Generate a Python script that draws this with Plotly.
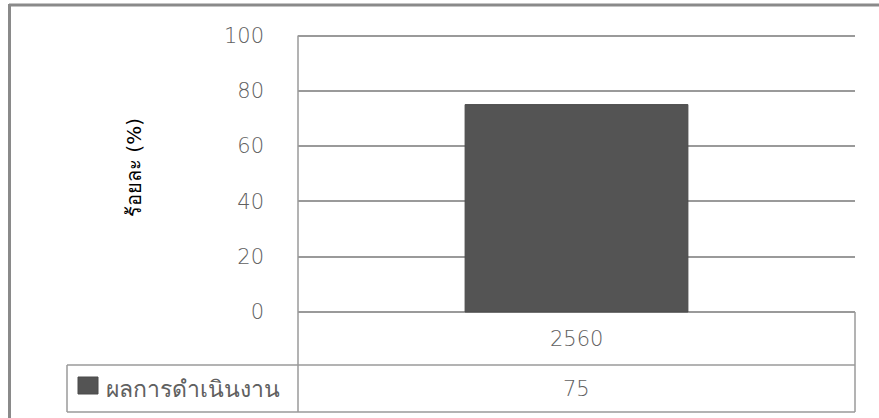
import plotly.graph_objects as go

# Data
categories = ["2560"]
series_name = "ผลการดำเนินงาน"
values = [75]
y_title = "ร้อยละ (%)"
y_ticks = [0, 20, 40, 60, 80, 100]
y_min, y_max = 0, 100

W, H = 879, 418


def px(x):
    return x / W


def py(y):
    return 1 - y / H


# Pixel layout of the chart frame
plot_l, plot_r = 298, 855
plot_t, plot_b = 35.5, 312
row1_b, row2_b = 365, 412
legend_l = 67

# pad the value range a little so the end gridlines are drawn,
# and grow the domain by the same amount so 0..100 stays in place
pad = 1.5
unit = (plot_b - plot_t) / (y_max - y_min)
dom_b = plot_b + pad * unit
dom_t = plot_t - pad * unit

grid_col = "#9a9a9a"
text_col = "#606060"
font_fam = "DejaVu Sans"
light = 200

fig = go.Figure()
fig.add_trace(go.Bar(
    x=categories,
    y=values,
    name=series_name,
    marker=dict(color="#545454", line=dict(color="#4a4a4a", width=1)),
    showlegend=False,
))

shapes = []
# outer chart border (top and left)
shapes.append(dict(type="line", xref="paper", yref="paper",
                   x0=px(9), x1=px(W + 5), y0=py(5), y1=py(5),
                   line=dict(color="#8a8a8a", width=3)))
shapes.append(dict(type="line", xref="paper", yref="paper",
                   x0=px(9.5), x1=px(9.5), y0=py(4), y1=py(H + 5),
                   line=dict(color="#8a8a8a", width=3)))
# data table grid
tl = dict(color=grid_col, width=1.5)
shapes += [
    dict(type="line", xref="paper", yref="paper", x0=px(plot_l), x1=px(plot_l),
         y0=py(plot_t), y1=py(row2_b), line=tl),
    dict(type="line", xref="paper", yref="paper", x0=px(plot_r), x1=px(plot_r),
         y0=py(plot_b), y1=py(row2_b), line=tl),
    dict(type="line", xref="paper", yref="paper", x0=px(legend_l), x1=px(plot_r),
         y0=py(row1_b), y1=py(row1_b), line=tl),
    dict(type="line", xref="paper", yref="paper", x0=px(legend_l), x1=px(plot_r),
         y0=py(row2_b), y1=py(row2_b), line=tl),
    dict(type="line", xref="paper", yref="paper", x0=px(legend_l), x1=px(legend_l),
         y0=py(row1_b), y1=py(row2_b), line=tl),
    # legend key swatch
    dict(type="rect", xref="paper", yref="paper", x0=px(78), x1=px(98),
         y0=py(394), y1=py(377), fillcolor="#545454",
         line=dict(color="#4a4a4a", width=1)),
]

cell_font = dict(family=font_fam, size=21, color=text_col, weight=light)
annotations = []
cell_cx = (plot_l + plot_r) / 2
for cat, val in zip(categories, values):
    annotations.append(dict(text=cat, xref="paper", yref="paper",
                            x=px(cell_cx), y=py((plot_b + row1_b) / 2),
                            showarrow=False, xanchor="center", yanchor="middle",
                            font=cell_font))
    annotations.append(dict(text=str(val), xref="paper", yref="paper",
                            x=px(cell_cx), y=py((row1_b + row2_b) / 2),
                            showarrow=False, xanchor="center", yanchor="middle",
                            font=cell_font))
annotations.append(dict(text=series_name, xref="paper", yref="paper",
                        x=px(104), y=py((row1_b + row2_b) / 2),
                        showarrow=False, xanchor="left", yanchor="middle",
                        font=dict(family=font_fam, size=23, color=text_col,
                                  weight=light)))
annotations.append(dict(text=y_title, xref="paper", yref="paper",
                        x=px(134), y=py(168), textangle=-90,
                        showarrow=False, xanchor="center", yanchor="middle",
                        font=dict(family=font_fam, size=20, color="#000000")))

fig.update_layout(
    width=W, height=H,
    margin=dict(l=0, r=0, t=0, b=0, autoexpand=False),
    paper_bgcolor="white", plot_bgcolor="white",
    bargap=0.6,
    xaxis=dict(domain=[px(plot_l), px(plot_r)], showticklabels=False,
               showgrid=False, zeroline=False, showline=False, fixedrange=True,
               automargin=False),
    yaxis=dict(domain=[py(dom_b), py(dom_t)], range=[y_min - pad, y_max + pad],
               tickvals=y_ticks, showgrid=True, gridcolor=grid_col, gridwidth=1.5,
               zeroline=False, showline=False, ticks="", automargin=False,
               ticklabelstandoff=33, fixedrange=True,
               tickfont=dict(family=font_fam, size=21, color=text_col,
                             weight=light)),
    shapes=shapes,
    annotations=annotations,
)

fig.write_html("out.html")
